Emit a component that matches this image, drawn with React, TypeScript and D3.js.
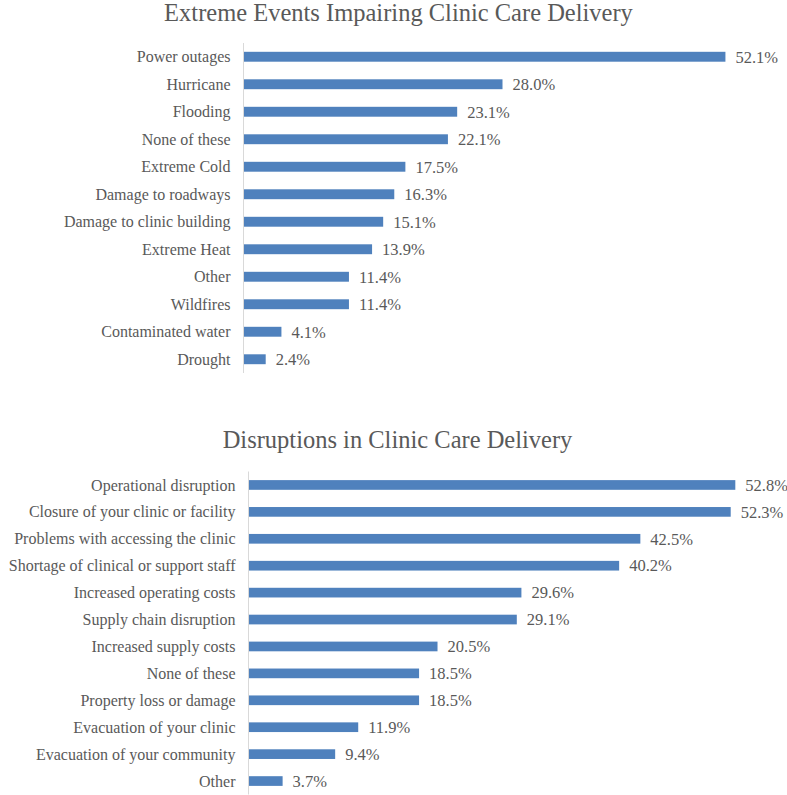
import React from "react";
import * as d3 from "d3";

const eventCategories = [
  "Power outages",
  "Hurricane",
  "Flooding",
  "None of these",
  "Extreme Cold",
  "Damage to roadways",
  "Damage to clinic building",
  "Extreme Heat",
  "Other",
  "Wildfires",
  "Contaminated water",
  "Drought",
];
const eventValues = [52.1, 28.0, 23.1, 22.1, 17.5, 16.3, 15.1, 13.9, 11.4, 11.4, 4.1, 2.4];

const disruptionCategories = [
  "Operational disruption",
  "Closure of your clinic or facility",
  "Problems with accessing the clinic",
  "Shortage of clinical or support staff",
  "Increased operating costs",
  "Supply chain disruption",
  "Increased supply costs",
  "None of these",
  "Property loss or damage",
  "Evacuation of your clinic",
  "Evacuation of your community",
  "Other",
];
const disruptionValues = [52.8, 52.3, 42.5, 40.2, 29.6, 29.1, 20.5, 18.5, 18.5, 11.9, 9.4, 3.7];

const titles = ["Extreme Events Impairing Clinic Care Delivery", "Disruptions in Clinic Care Delivery"];

const FONT = "'Liberation Serif', serif";
const TEXT = "#595959";
const BAR = "#4F81BD";

type PanelProps = {
  title: string;
  cats: string[];
  vals: number[];
  titleX: number;
  titleY: number;
  axisX: number;
  top: number;
  bottom: number;
  pxPerUnit: number;
};

function Panel({ title, cats, vals, titleX, titleY, axisX, top, bottom, pxPerUnit }: PanelProps) {
  const y = d3.scaleBand<string>().domain(cats).range([top, bottom]).paddingInner(0.64).paddingOuter(0.32);
  const x = d3.scaleLinear().domain([0, 60]).range([axisX, axisX + 60 * pxPerUnit]);
  return (
    <g>
      <text x={titleX} y={titleY} textAnchor="middle" fontFamily={FONT} fontSize={24.5} fill={TEXT}>
        {title}
      </text>
      {cats.map((c, i) => {
        const cy = (y(c) as number) + y.bandwidth() / 2;
        return (
          <g key={c + i}>
            <rect x={x(0)} y={y(c)} width={x(vals[i]) - x(0)} height={y.bandwidth()} fill={BAR} />
            <text x={axisX - 13} y={cy} dy="0.35em" textAnchor="end" fontFamily={FONT} fontSize={16} fill={TEXT}>
              {c}
            </text>
            <text x={x(vals[i]) + 10} y={cy} dy="0.35em" fontFamily={FONT} fontSize={16.5} fill={TEXT}>
              {vals[i].toFixed(1) + "%"}
            </text>
          </g>
        );
      })}
      <line x1={axisX} x2={axisX} y1={top} y2={bottom} stroke="#d9d9d9" strokeWidth={1} />
    </g>
  );
}

export default function App() {
  return (
    <svg width={787} height={795} style={{ position: "absolute", left: 0, top: 0, background: "#fff" }}>
      <Panel
        title={titles[0]}
        cats={eventCategories}
        vals={eventValues}
        titleX={398.5}
        titleY={21}
        axisX={243.5}
        top={43}
        bottom={373}
        pxPerUnit={9.25}
      />
      <Panel
        title={titles[1]}
        cats={disruptionCategories}
        vals={disruptionValues}
        titleX={397.5}
        titleY={448}
        axisX={248.5}
        top={471.5}
        bottom={794.5}
        pxPerUnit={9.22}
      />
    </svg>
  );
}
